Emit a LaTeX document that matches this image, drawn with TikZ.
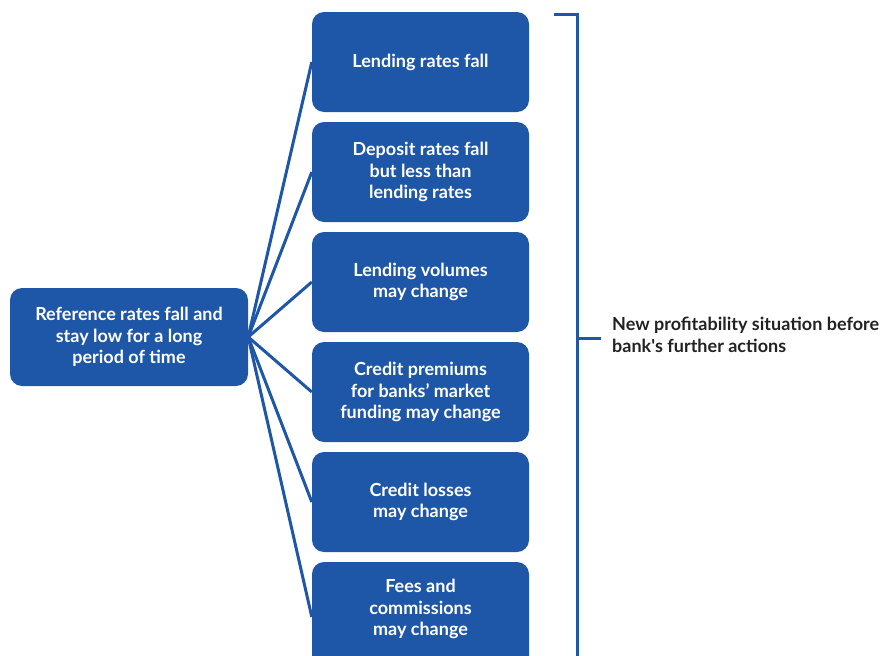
\documentclass[tikz,border=0pt]{standalone}
\usepackage{fontspec}
\setmainfont{Lato}
\definecolor{ecbblue}{HTML}{1F57A8}
\definecolor{labeltext}{HTML}{222222}
\begin{document}
\begin{tikzpicture}[x=1pt,y=-1pt,
  box/.style={fill=ecbblue, draw=none, rounded corners=12pt, text=white,
    font=\bfseries\fontsize{18}{21.5}\selectfont, align=center, inner sep=0pt},
  rbox/.style={box, minimum width=217pt, minimum height=100pt},
  link/.style={draw=ecbblue, line width=3pt},
  brace/.style={draw=ecbblue, line width=3pt},
  note/.style={text=labeltext, font=\bfseries\fontsize{18}{22}\selectfont, align=left, inner sep=0pt, anchor=west}]
\useasboundingbox (0,0) rectangle (884,656);
\node[box, minimum width=238pt, minimum height=98pt] (src) at (129,337) {Reference rates fall and\\stay low for a long\\period of time};
\node[rbox] (b1) at (420.5,62) {Lending rates fall};
\node[rbox] (b2) at (420.5,172) {Deposit rates fall\\but less than\\lending rates};
\node[rbox] (b3) at (420.5,282) {Lending volumes\\may change};
\node[rbox] (b4) at (420.5,392) {Credit premiums\\for banks’ market\\funding may change};
\node[rbox] (b5) at (420.5,502) {Credit losses\\may change};
\node[rbox, minimum height=110pt] (b6) at (420.5,617) {};
\node[box, fill=none] (t6) at (420.5,609) {Fees and\\commissions\\may change};
\foreach \b in {b1,b2,b3,b4,b5,b6}
  \draw[link] (src.east) -- (\b.west);
\coordinate (bt0) at (554,14);
\coordinate (bt1) at (577,14);
\coordinate (bb) at (577,670);
\coordinate (bm0) at (577,338);
\coordinate (bm1) at (601,338);
\draw[brace] (bt0) -- (bt1) -- (bb);
\draw[brace] (bm0) -- (bm1);
\node[note] (res) at (612,335) {New profitability situation before\\bank\textquotesingle s further actions};
\end{tikzpicture}
\end{document}
